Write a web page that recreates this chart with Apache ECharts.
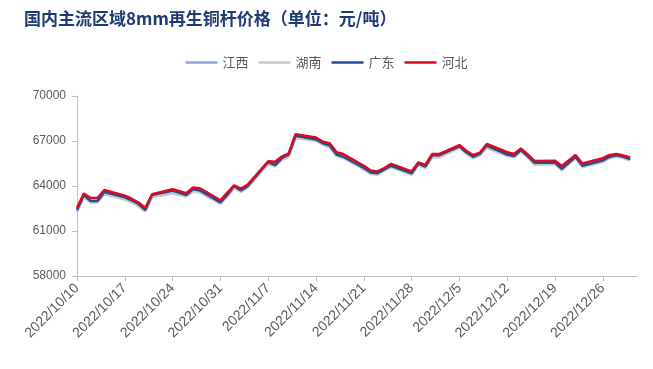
<!DOCTYPE html>
<html>
<head>
<meta charset="utf-8">
<script src="https://cdn.jsdelivr.net/npm/echarts@6/dist/echarts.min.js"></script>
<style>html,body{margin:0;padding:0;background:#fff;}#c{width:653px;height:369px;}</style>
</head>
<body>
<div id="c"></div>
<script>
// weekday dates with data (2022)
const dataDates = ["10/10","10/11","10/12","10/13","10/14","10/17","10/18","10/19","10/20","10/21",
"10/24","10/25","10/26","10/27","10/28","10/31","11/1","11/2","11/3","11/4",
"11/7","11/8","11/9","11/10","11/11","11/14","11/15","11/16","11/17","11/18",
"11/21","11/22","11/23","11/24","11/25","11/28","11/29","11/30","12/1","12/2",
"12/5","12/6","12/7","12/8","12/9","12/12","12/13","12/14","12/15","12/16",
"12/19","12/20","12/21","12/22","12/23","12/26","12/27","12/28","12/29","12/30"];
const jiangxi = [62300,63300,62950,62950,63500,63150,62950,62700,62350,63300,
63550,63450,63350,63700,63600,62850,63350,63900,63650,63950,
65500,65350,65800,66000,67250,67050,66800,66600,66050,65900,
65150,64850,64800,65050,65300,64800,65450,65250,65950,65950,
66600,66200,65900,66100,66600,66050,65950,66350,65950,65450,
65500,65100,65500,65900,65300,65650,65900,66000,65900,65750];
const hunan = [62250,63250,62900,62900,63450,63100,62900,62650,62300,63250,
63500,63400,63300,63650,63550,62800,63300,63850,63600,63900,
65450,65300,65750,65950,67200,67000,66750,66550,66000,65850,
65100,64800,64750,65000,65250,64750,65400,65200,65900,65900,
66550,66150,65850,66050,66550,66000,65900,66300,65900,65400,
65450,65050,65450,65850,65250,65600,65850,65950,65850,65700];
const guangdong = [62400,63400,63000,63000,63600,63250,63050,62800,62400,63400,
63700,63550,63400,63800,63700,62900,63400,64000,63700,64000,
65600,65400,65850,66100,67350,67100,66850,66700,66100,65950,
65200,64900,64850,65100,65350,64850,65500,65300,66050,66050,
66650,66250,65950,66150,66700,66100,66000,66400,66000,65550,
65550,65150,65550,65950,65350,65700,65950,66050,65950,65800];
const hebei = [62550,63500,63200,63200,63730,63350,63150,62900,62550,63450,
63780,63650,63520,63900,63850,63050,63550,64050,63820,64100,
65650,65620,65960,66180,67450,67230,66950,66850,66250,66130,
65350,65030,64970,65200,65470,64970,65580,65400,66130,66130,
66730,66350,66070,66220,66800,66250,66130,66510,66100,65670,
65680,65330,65700,66070,65500,65850,66070,66130,66030,65910];
const seriesNames = ["江西","湖南","广东","河北"];
const yTicks = [58000,61000,64000,67000,70000];

// full calendar axis 2022/10/10 .. 2022/12/31
const categories = [];
{
  const d = new Date(2022, 9, 10);
  const end = new Date(2022, 11, 31);
  while (d <= end) {
    categories.push(d.getFullYear() + "/" + (d.getMonth()+1) + "/" + d.getDate());
    d.setDate(d.getDate()+1);
  }
}
function spread(vals) {
  const m = {};
  dataDates.forEach((k,i)=>{ m["2022/"+k] = vals[i]; });
  return categories.map(c => (c in m) ? m[c] : null);
}
const colors = ["#8EA9DB","#C9C9C9","#1F4E9B","#DC0A1E"];
const allVals = [jiangxi, hunan, guangdong, hebei];

const chart = echarts.init(document.getElementById('c'));
chart.setOption({
  animation:false,
  title:{text:"国内主流区域8mm再生铜杆价格（单位：元/吨）",left:19,top:5,
    textStyle:{fontSize:17,fontWeight:'bold',color:'#1F3A72',fontFamily:'Noto Sans CJK SC'}},
  legend:{data:seriesNames.map(n=>({name:n,icon:'rect'})),left:'center',top:51,itemWidth:32,itemHeight:2.5,itemGap:10,
    textStyle:{fontSize:13,color:'#595959',fontFamily:'Noto Sans CJK SC'}},
  grid:{left:77,right:16,top:96,bottom:93,containLabel:false},
  xAxis:{type:'category',data:categories,boundaryGap:false,
    axisLine:{lineStyle:{color:'#BFBFBF',width:1}},
    axisTick:{show:true,interval:6,length:5,lineStyle:{color:'#BFBFBF'}},
    axisLabel:{interval:6,rotate:45,fontSize:14,color:'#595959',margin:10,fontFamily:'Liberation Sans'},
    splitLine:{show:false}},
  yAxis:{type:'value',min:yTicks[0],max:yTicks[yTicks.length-1],interval:3000,
    axisLine:{show:true,lineStyle:{color:'#BFBFBF',width:1}},
    axisTick:{show:true,length:5,lineStyle:{color:'#BFBFBF'}},
    axisLabel:{fontSize:12,color:'#595959',margin:11,fontFamily:'Liberation Sans',formatter:v=>String(v)},
    splitLine:{show:false}},
  series: seriesNames.map((n,i)=>({
    name:n,type:'line',data:spread(allVals[i]),connectNulls:true,symbol:'none',
    lineStyle:{width:2.5,color:colors[i]},itemStyle:{color:colors[i]}
  }))
});
</script>
</body>
</html>
